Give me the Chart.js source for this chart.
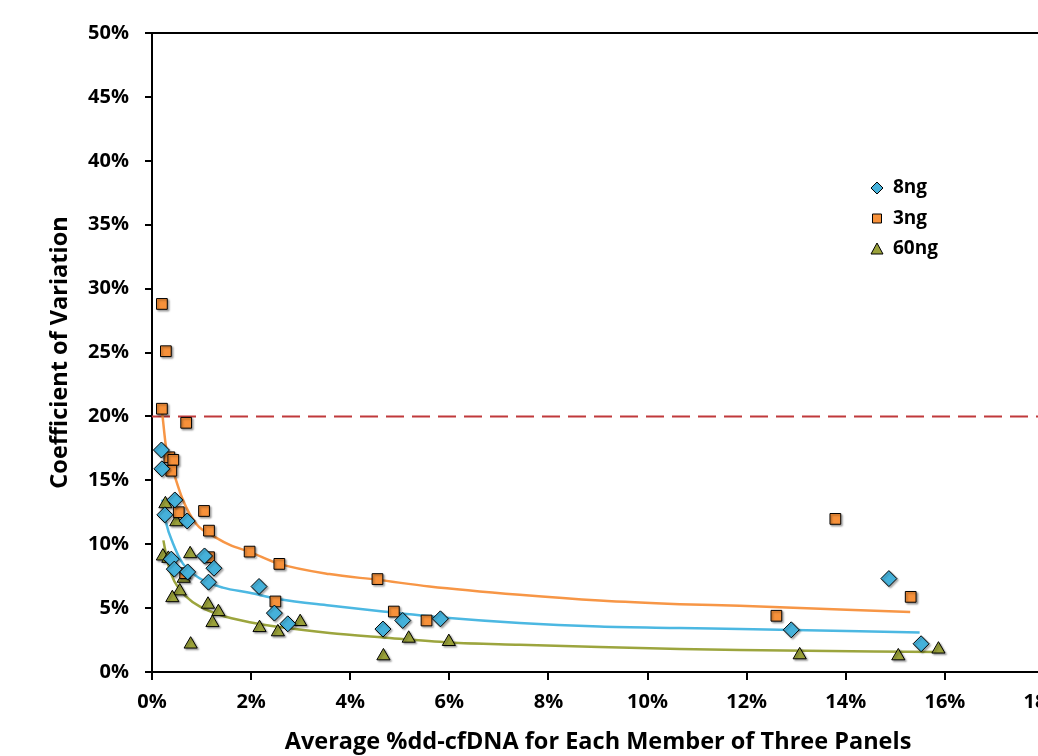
<!DOCTYPE html>
<html>
<head>
  <meta charset="UTF-8">
  <title>Coefficient of Variation vs %dd-cfDNA</title>
  <script src="https://cdn.jsdelivr.net/npm/chart.js"></script>
  <style>
    html, body {
      margin: 0;
      padding: 0;
      background: #fff;
      overflow: hidden;
      width: 1038px;
      height: 756px;
    }
    #cv {
      display: block;
    }
  </style>
</head>
<body>
  <canvas id="cv" width="1080" height="756"></canvas>

  <script>
    // measured points (x = average %dd-cfDNA, y = CV %)
    const ng8X = [0.19, 0.20, 0.26, 0.46, 0.71, 1.06, 0.39, 0.45, 0.72, 1.25, 1.14, 2.16, 2.47, 2.74, 4.66, 5.06, 5.82, 12.90, 14.87, 15.52];
    const ng8Y = [17.37, 15.90, 12.30, 13.46, 11.82, 9.08, 8.83, 8.05, 7.83, 8.12, 7.03, 6.69, 4.61, 3.77, 3.36, 4.03, 4.16, 3.30, 7.31, 2.21];

    const ng3X = [0.20, 0.28, 0.20, 0.69, 0.35, 0.43, 0.39, 0.54, 1.05, 1.15, 1.97, 2.57, 1.15, 0.67, 2.49, 4.55, 4.88, 5.54, 12.60, 13.79, 15.31];
    const ng3Y = [28.8, 25.1, 20.6, 19.5, 16.8, 16.6, 15.75, 12.5, 12.6, 11.06, 9.42, 8.46, 8.98, 7.73, 5.52, 7.27, 4.73, 4.03, 4.40, 11.98, 5.88];

    const ng60X = [0.27, 0.49, 0.22, 0.33, 0.77, 0.64, 0.56, 0.41, 1.13, 1.34, 1.22, 0.78, 2.17, 2.54, 2.99, 4.67, 5.18, 5.99, 13.07, 15.06, 15.87];
    const ng60Y = [13.15, 11.74, 9.06, 8.88, 9.24, 7.32, 6.33, 5.80, 5.29, 4.71, 3.85, 2.17, 3.46, 3.13, 3.93, 1.25, 2.63, 2.37, 1.33, 1.25, 1.78];

    // trend curves
    const fit3X = [0.20, 0.29, 0.42, 0.62, 0.89, 1.30, 1.57, 1.97, 2.57, 3.58, 4.56, 5.60, 7.42, 9.03, 10.65, 11.86, 15.30];
    const fit3Y = [20.5, 17.4, 15.8, 13.5, 11.6, 10.5, 9.95, 9.4, 8.46, 7.66, 7.21, 6.69, 6.04, 5.59, 5.31, 5.18, 4.69];

    const fit8X = [0.21, 0.29, 0.42, 0.62, 0.96, 1.43, 1.97, 2.57, 3.58, 4.66, 6.00, 7.42, 9.03, 10.65, 11.86, 15.49];
    const fit8Y = [13.5, 11.6, 10.1, 8.5, 7.34, 6.6, 6.2, 5.70, 5.20, 4.73, 4.22, 3.83, 3.56, 3.44, 3.36, 3.1];

    const fit60X = [0.23, 0.32, 0.45, 0.69, 0.96, 1.36, 1.97, 2.57, 3.58, 4.66, 6.00, 7.42, 9.03, 10.65, 11.86, 15.90];
    const fit60Y = [10.3, 8.5, 7.1, 5.9, 5.13, 4.48, 3.9, 3.52, 3.05, 2.70, 2.31, 2.13, 1.95, 1.8, 1.72, 1.56];

    // 20% acceptance limit
    const limitX = [0, 18];
    const limitY = [20, 20];

    const xTicks = [0, 2, 4, 6, 8, 10, 12, 14, 16, 18];
    const yTicks = [0, 5, 10, 15, 20, 25, 30, 35, 40, 45, 50];

    const toPts = (xs, ys) => xs.map((x, i) => ({ x: x, y: ys[i] }));

    const BLUE = '#45B1DA';
    const ORANGE = '#F7913A';
    const GREEN = '#9AA13A';
    const FONT = '"Open Sans", Lato, sans-serif';

    // soft shadow under markers, like the spreadsheet original
    const markerShadow = {
      id: 'markerShadow',
      beforeDatasetDraw(chart, args) {
        const ds = chart.data.datasets[args.index];
        chart.ctx.save();
        if (ds.isMarker) {
          chart.ctx.shadowColor = 'rgba(0,0,0,0.35)';
          chart.ctx.shadowOffsetX = 1.5;
          chart.ctx.shadowOffsetY = 1.5;
          chart.ctx.shadowBlur = 2;
        }
      },
      afterDatasetDraw(chart) {
        chart.ctx.restore();
      }
    };

    // top border of the plot area
    const frame = {
      id: 'frame',
      beforeDatasetsDraw(chart) {
        const { ctx, chartArea } = chart;
        ctx.save();
        ctx.strokeStyle = '#000';
        ctx.lineWidth = 2;
        ctx.beginPath();
        ctx.moveTo(chartArea.left, chartArea.top);
        ctx.lineTo(chartArea.right, chartArea.top);
        ctx.lineTo(chartArea.right, chartArea.bottom);
        ctx.stroke();
        ctx.restore();
      }
    };

    // legend inside the plot
    const insideLegend = {
      id: 'insideLegend',
      afterDraw(chart) {
        const { ctx, chartArea } = chart;
        const x0 = chartArea.left + 725;
        const y0 = chartArea.top + 155;
        const gap = 30.5;
        ctx.save();
        ctx.font = 'bold 19px ' + FONT;
        ctx.textBaseline = 'middle';
        ctx.fillStyle = '#000';
        chart.data.datasets.filter(d => d.isMarker).forEach((ds, i) => {
          const y = y0 + i * gap;
          ctx.beginPath();
          if (ds.pointStyle === 'rectRot') {
            ctx.moveTo(x0, y - 6);
            ctx.lineTo(x0 + 6, y);
            ctx.lineTo(x0, y + 6);
            ctx.lineTo(x0 - 6, y);
          } else if (ds.pointStyle === 'rect') {
            ctx.rect(x0 - 4.5, y - 4.5, 9, 9);
          } else {
            ctx.moveTo(x0, y - 6);
            ctx.lineTo(x0 + 6, y + 5);
            ctx.lineTo(x0 - 6, y + 5);
          }
          ctx.closePath();
          ctx.fillStyle = ds.backgroundColor;
          ctx.fill();
          ctx.strokeStyle = '#000';
          ctx.lineWidth = 1;
          ctx.stroke();
          ctx.fillStyle = '#000';
          ctx.fillText(ds.label, x0 + 16, y);
        });
        ctx.restore();
      }
    };

    const lineDs = (label, xs, ys, color) => ({
      label: label,
      data: toPts(xs, ys),
      showLine: true,
      borderColor: color,
      borderWidth: 2.5,
      pointRadius: 0,
      fill: false,
      cubicInterpolationMode: 'monotone',
      order: 2
    });

    new Chart(document.getElementById('cv'), {
      type: 'scatter',
      data: {
        datasets: [
          {
            label: '8ng',
            isMarker: true,
            data: toPts(ng8X, ng8Y),
            pointStyle: 'rectRot',
            pointRadius: 8,
            backgroundColor: BLUE,
            borderColor: '#000',
            borderWidth: 1,
            order: 1
          },
          {
            label: '3ng',
            isMarker: true,
            data: toPts(ng3X, ng3Y),
            pointStyle: 'rect',
            pointRadius: 7.6,
            backgroundColor: ORANGE,
            borderColor: '#000',
            borderWidth: 1,
            order: 1
          },
          {
            label: '60ng',
            isMarker: true,
            data: toPts(ng60X, ng60Y),
            pointStyle: 'triangle',
            pointRadius: 7.6,
            backgroundColor: GREEN,
            borderColor: '#000',
            borderWidth: 1,
            order: 1
          },
          lineDs('fit 3ng', fit3X, fit3Y, '#F79646'),
          lineDs('fit 8ng', fit8X, fit8Y, '#4CB8E2'),
          lineDs('fit 60ng', fit60X, fit60Y, '#9CA53E'),
          {
            label: 'limit',
            data: toPts(limitX, limitY),
            showLine: true,
            borderColor: '#C0393B',
            borderWidth: 2,
            borderDash: [18, 8],
            pointRadius: 0,
            order: 3
          }
        ]
      },
      options: {
        responsive: false,
        animation: false,
        devicePixelRatio: 1,
        layout: {
          padding: { top: 33, right: 36, left: 0, bottom: 0 }
        },
        plugins: {
          legend: { display: false },
          tooltip: { enabled: false }
        },
        scales: {
          x: {
            type: 'linear',
            min: xTicks[0],
            max: xTicks[xTicks.length - 1],
            afterBuildTicks: (scale) => { scale.ticks = xTicks.map(v => ({ value: v })); },
            afterFit: (scale) => { scale.height = 84; },
            ticks: {
              callback: (v) => v + '%',
              color: '#000',
              font: { family: FONT, size: 20, weight: 'bold' },
              padding: 10,
              maxRotation: 0
            },
            grid: {
              drawOnChartArea: false,
              drawTicks: true,
              tickLength: 8,
              color: '#000',
              lineWidth: 2
            },
            border: { color: '#000', width: 2 },
            title: {
              display: true,
              text: 'Average %dd-cfDNA for Each Member of Three Panels',
              color: '#000',
              font: { family: FONT, size: 23.5, weight: 'bold' },
              padding: { top: 2, bottom: 0 }
            }
          },
          y: {
            min: yTicks[0],
            max: yTicks[yTicks.length - 1],
            afterBuildTicks: (scale) => { scale.ticks = yTicks.map(v => ({ value: v })); },
            afterFit: (scale) => { scale.width = 152; },
            ticks: {
              callback: (v) => v + '%',
              color: '#000',
              font: { family: FONT, size: 20, weight: 'bold' },
              padding: 16
            },
            grid: {
              drawOnChartArea: false,
              drawTicks: true,
              tickLength: 7,
              color: '#000',
              lineWidth: 2
            },
            border: { color: '#000', width: 2 },
            title: {
              display: true,
              text: 'Coefficient of Variation',
              color: '#000',
              font: { family: FONT, size: 23.5, weight: 'bold' },
              padding: { top: 46, bottom: 0 }
            }
          }
        }
      },
      plugins: [markerShadow, frame, insideLegend]
    });
  </script>
</body>
</html>
